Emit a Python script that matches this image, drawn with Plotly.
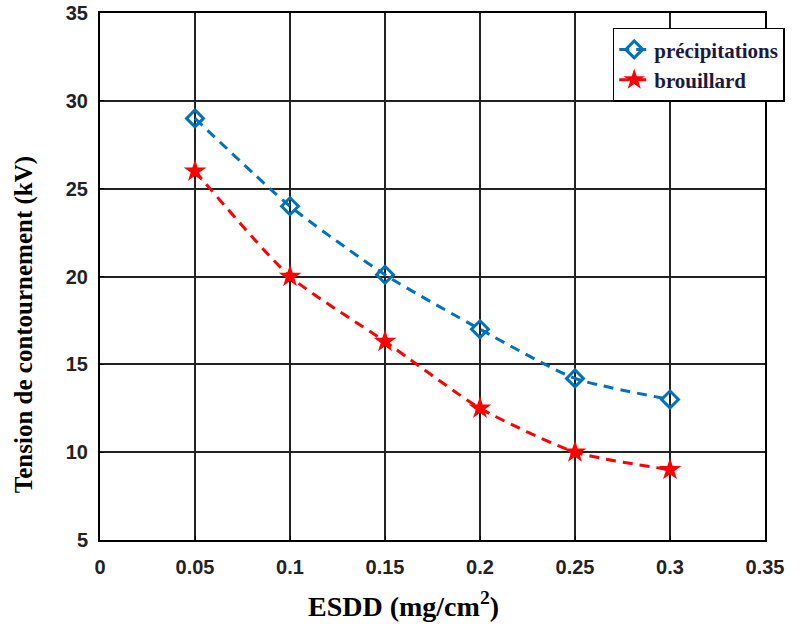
import plotly.graph_objects as go

esdd = [0.05, 0.10, 0.15, 0.20, 0.25, 0.30]
precipitations = [29.0, 24.0, 20.1, 17.0, 14.2, 13.0]
brouillard = [26.0, 20.0, 16.3, 12.5, 10.0, 9.0]

x_ticks = [0, 0.05, 0.1, 0.15, 0.2, 0.25, 0.3, 0.35]
x_labels = ["0", "0.05", "0.1", "0.15", "0.2", "0.25", "0.3", "0.35"]

fig = go.Figure()
fig.add_trace(go.Scatter(
    x=esdd, y=precipitations, name="précipitations",
    mode="lines+markers",
    line=dict(color="#0072BD", width=3, dash="10px,7px", shape="spline", smoothing=0.6),
    marker=dict(symbol="diamond-open", size=13, color="#0072BD", line=dict(width=3)),
))
fig.add_trace(go.Scatter(
    x=esdd, y=brouillard, name="brouillard",
    mode="lines+markers",
    line=dict(color="#FF0000", width=3, dash="10px,7px", shape="spline", smoothing=0.6),
    marker=dict(symbol="star", size=17, color="#FF0000"),
))

tick_font = dict(family="Liberation Sans, Arial", size=20, color="#222222", weight="bold")
axis_common = dict(
    showgrid=True, gridcolor="#222222", gridwidth=1.5,
    showline=True, linecolor="black", linewidth=2, mirror=True,
    ticks="inside", ticklen=4, tickcolor="black",
    zeroline=False, automargin=False,
    tickfont=tick_font,
)

title_font = dict(family="Liberation Serif, Times New Roman", color="black", weight="bold")

fig.update_layout(
    width=809, height=624,
    margin=dict(l=100, r=44, t=13, b=84),
    paper_bgcolor="white", plot_bgcolor="white",
    xaxis=dict(range=[0, 0.35], tickvals=x_ticks, ticktext=x_labels,
               ticklabelstandoff=8, **axis_common),
    yaxis=dict(range=[5, 35], dtick=5, ticklabelstandoff=6, **axis_common),
    legend=dict(
        x=0.771, y=0.972, xanchor="left", yanchor="top",
        bgcolor="white", bordercolor="black", borderwidth=1.5,
        font=dict(family="Liberation Serif, Times New Roman", size=21,
                  color="#1a1a40", weight="bold"),
        itemwidth=30, tracegroupgap=0,
    ),
    annotations=[
        dict(text="ESDD (mg/cm<sup>2</sup>)", xref="paper", yref="paper",
             x=0.457, y=-0.123, xanchor="center", yanchor="middle",
             showarrow=False, font=dict(size=28, **title_font)),
        dict(text="Tension de contournement (kV)", xref="paper", yref="paper",
             x=-0.114, y=0.408, xanchor="center", yanchor="middle", textangle=-90,
             showarrow=False, font=dict(size=25, **title_font)),
    ],
)

fig.write_html("out.html")
